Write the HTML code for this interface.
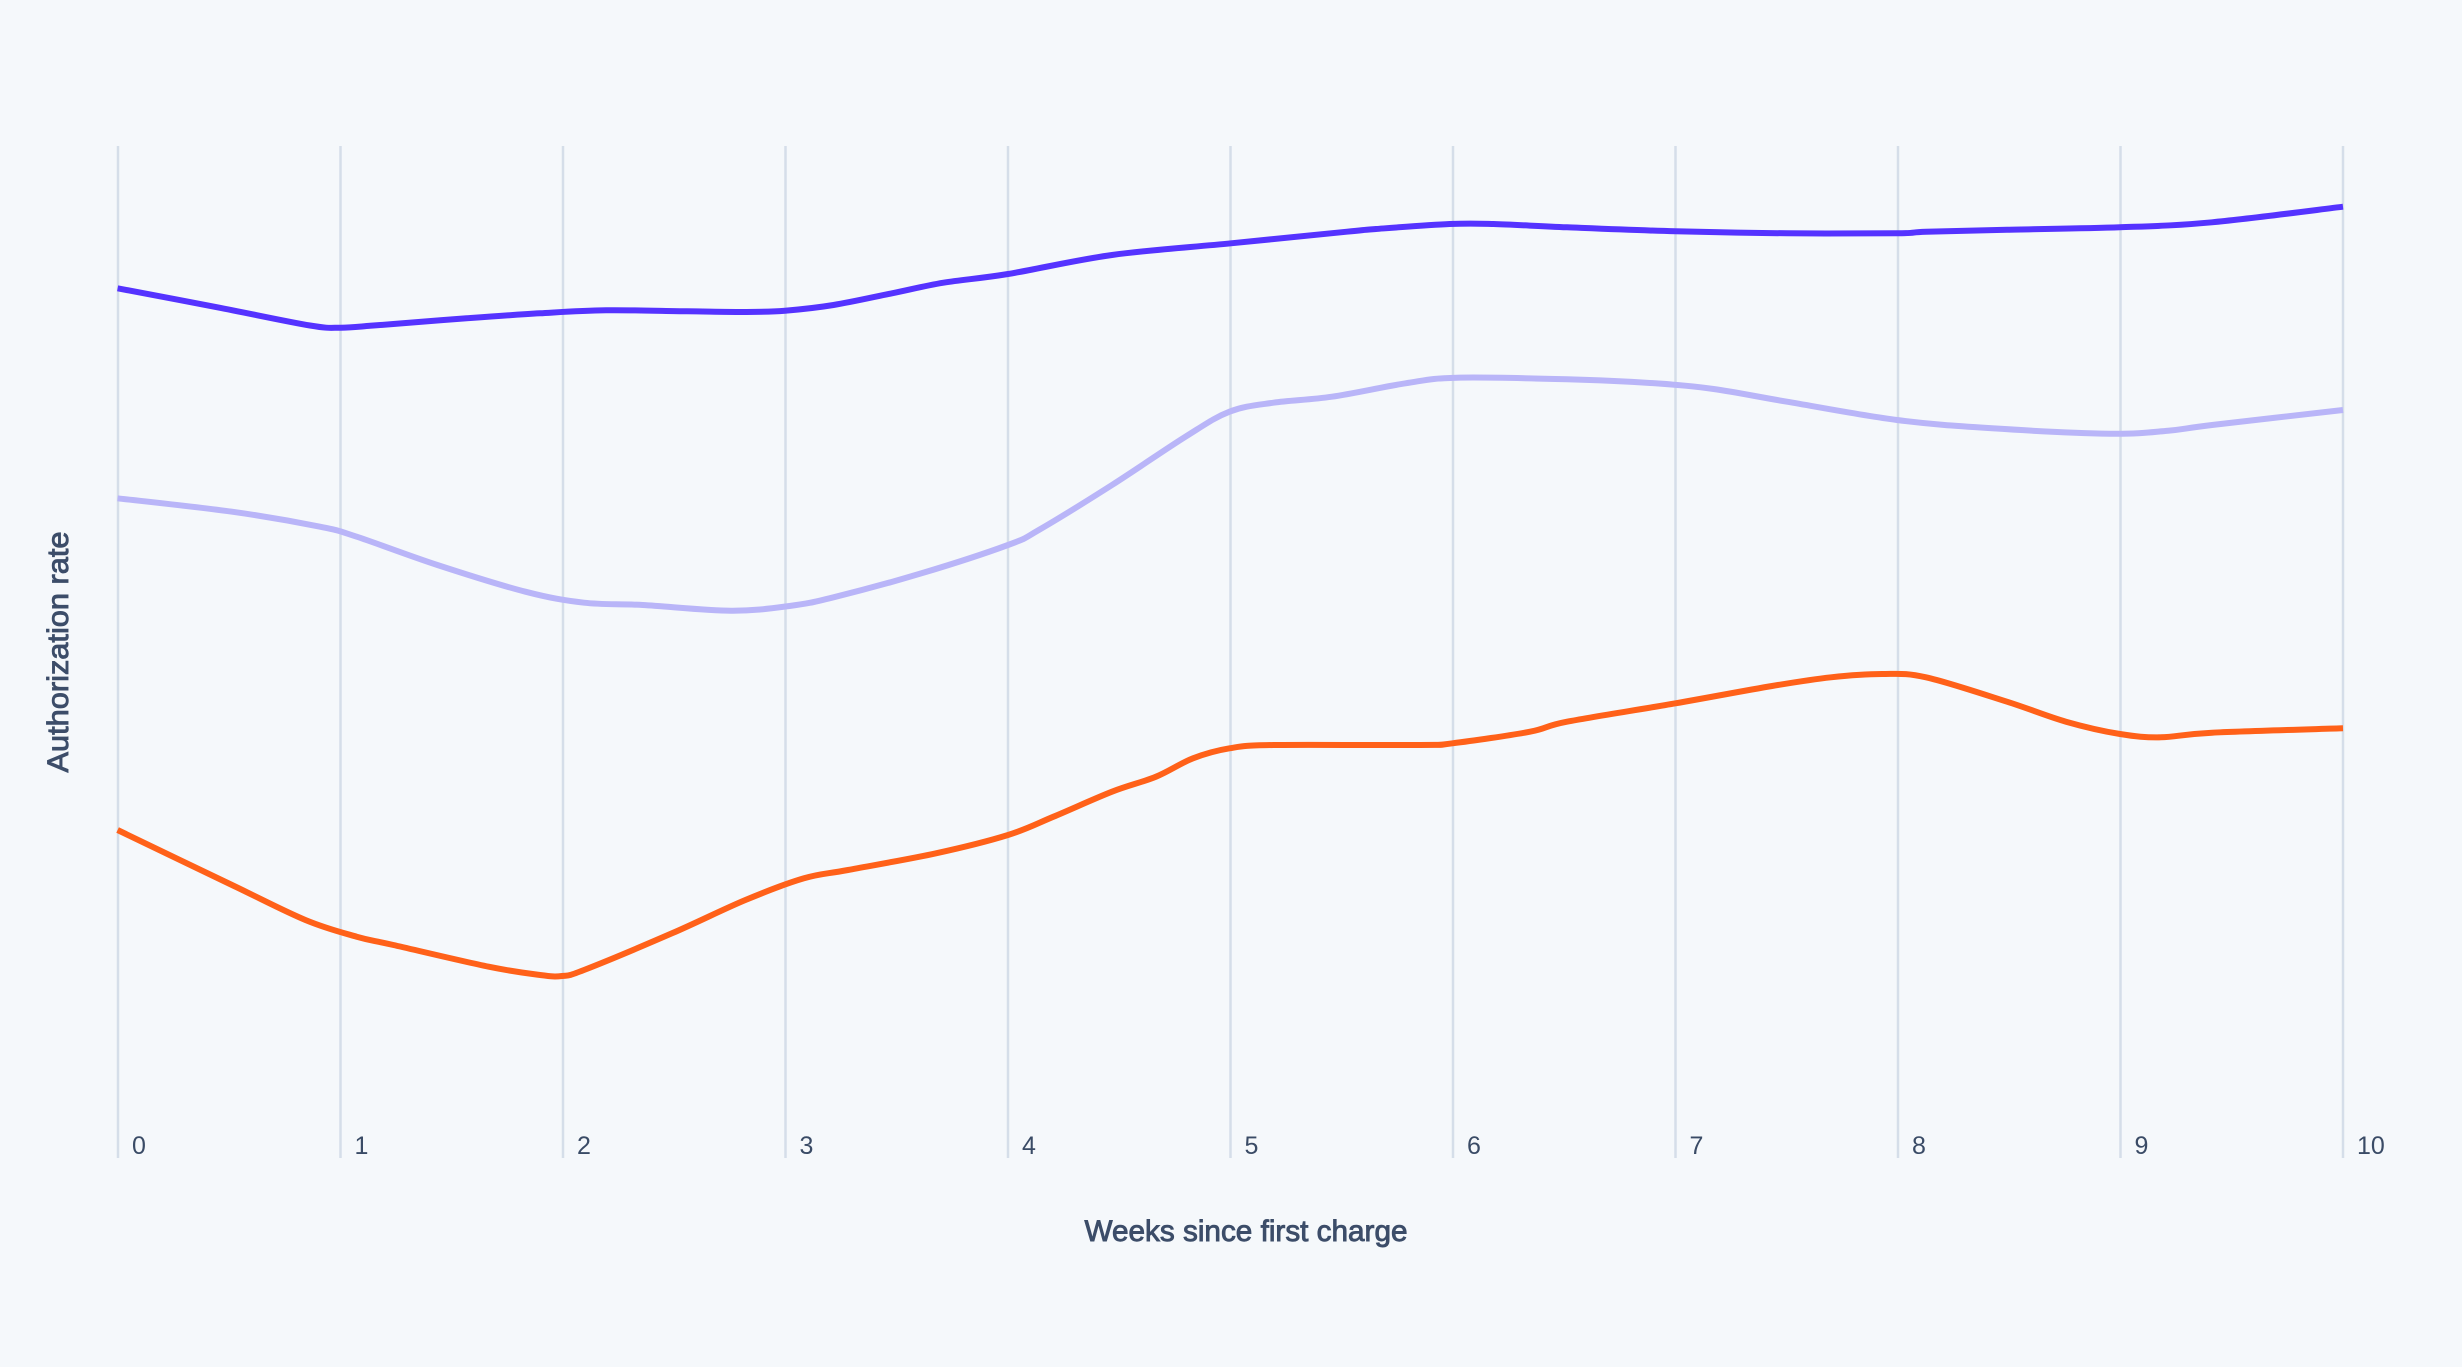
<!DOCTYPE html>
<html>
<head>
<meta charset="utf-8">
<style>
  html, body { margin: 0; padding: 0; background: #f5f8fb; }
  svg { display: block; }
  .tick { font-family: "Liberation Sans", sans-serif; font-size: 25px; fill: #3a4b66; }
  .title { font-family: "Liberation Sans", sans-serif; font-size: 30px; fill: #3c4d69; stroke: #3c4d69; stroke-width: 0.9px; }
</style>
</head>
<body>
<svg id="chart" width="2462" height="1367" viewBox="0 0 2462 1367" xmlns="http://www.w3.org/2000/svg">
  <rect x="0" y="0" width="2462" height="1367" fill="#f5f8fb"/>
  <g stroke="#d5dee9" stroke-width="2.5">
    <line x1="118" y1="146" x2="118" y2="1158"/>
    <line x1="340.5" y1="146" x2="340.5" y2="1158"/>
    <line x1="563" y1="146" x2="563" y2="1158"/>
    <line x1="785.5" y1="146" x2="785.5" y2="1158"/>
    <line x1="1008" y1="146" x2="1008" y2="1158"/>
    <line x1="1230.5" y1="146" x2="1230.5" y2="1158"/>
    <line x1="1453" y1="146" x2="1453" y2="1158"/>
    <line x1="1675.5" y1="146" x2="1675.5" y2="1158"/>
    <line x1="1898" y1="146" x2="1898" y2="1158"/>
    <line x1="2120.5" y1="146" x2="2120.5" y2="1158"/>
    <line x1="2343" y1="146" x2="2343" y2="1158"/>
  </g>
  <g class="tick">
    <text x="132" y="1154">0</text>
    <text x="354.5" y="1154">1</text>
    <text x="577" y="1154">2</text>
    <text x="799.5" y="1154">3</text>
    <text x="1022" y="1154">4</text>
    <text x="1244.5" y="1154">5</text>
    <text x="1467" y="1154">6</text>
    <text x="1689.5" y="1154">7</text>
    <text x="1912" y="1154">8</text>
    <text x="2134.5" y="1154">9</text>
    <text x="2357" y="1154">10</text>
  </g>
  <text class="title" x="1246" y="1241" text-anchor="middle" textLength="323" lengthAdjust="spacingAndGlyphs">Weeks since first charge</text>
  <text class="title" transform="translate(68,652) rotate(-90)" x="0" y="0" text-anchor="middle" textLength="241" lengthAdjust="spacingAndGlyphs">Authorization rate</text>

  <polyline id="s1" fill="none" stroke="#5533ff" stroke-width="6" stroke-linejoin="round" stroke-linecap="butt" points="117.6,288.3 217.4,307.3 310,325.5 340.6,327.7 370,325.8 393.4,324 466.7,318.3 540,313.3 606,310.3 686.8,311.3 745.4,312 785,310.7 833.5,305 892,293.3 943.5,282.7 1008,274 1112,255 1231,243.3 1347,231.7 1376,229 1449.6,224 1493.6,224 1567,227.3 1675.5,231.3 1787,233.3 1897,233.3 1926,231.7 2007,229.7 2120,227.3 2212,222.3 2343,206.7"/>
  <polyline id="s2" fill="none" stroke="#b9b5f8" stroke-width="6" stroke-linejoin="round" stroke-linecap="butt" points="117.6,498.3 232,511.7 320,526.7 356.7,536.7 437.4,565 525.4,591.7 584,602.7 642.8,605 730.8,610.7 789.5,606 833.5,597.3 921.5,573.3 1008,545 1038.8,530 1112,485 1185.5,436.7 1229.5,411.7 1273.5,402.7 1332,396.7 1405.6,383.3 1457,377.7 1567,379.3 1655,383.3 1713.6,389 1787,401.7 1897,420 1992,428.3 2109.7,433.7 2168,430.7 2212,425 2343,410"/>
  <polyline id="s3" fill="none" stroke="#ff6119" stroke-width="6" stroke-linejoin="round" stroke-linecap="butt" points="117.6,830 232,885 305.4,920 356.7,936.7 393.4,945 488.7,966.7 540,975 562,976 584,970 672,933.3 745.4,900 804,878.3 848,870 936,853.3 1008,835 1053.5,816.7 1112,791.7 1156,776.7 1193,758.3 1229.5,748.3 1273.5,745 1420,745 1452.5,743.3 1530,731.7 1567,721.7 1675.5,703.3 1772,686 1831,677.3 1882,674 1926,677.3 2007,701.7 2066,721.7 2120,734 2161,737.3 2212,732.7 2343,728.3"/>
</svg>
<script>
(function(){
  var ns = "http://www.w3.org/2000/svg";
  ["s1","s2","s3"].forEach(function(id){
    var pl = document.getElementById(id);
    if(!pl) return;
    var pts = pl.getAttribute("points").trim().split(/\s+/).map(function(p){var a=p.split(",");return [parseFloat(a[0]),parseFloat(a[1])];});
    var d = "M" + pts[0][0] + "," + pts[0][1];
    for (var i=0;i<pts.length-1;i++){
      var p0 = pts[i-1] || pts[i], p1 = pts[i], p2 = pts[i+1], p3 = pts[i+2] || pts[i+1];
      var t = 6;
      var c1x = p1[0] + (p2[0]-p0[0])/t, c1y = p1[1] + (p2[1]-p0[1])/t;
      var c2x = p2[0] - (p3[0]-p1[0])/t, c2y = p2[1] - (p3[1]-p1[1])/t;
      d += " C" + c1x.toFixed(2) + "," + c1y.toFixed(2) + " " + c2x.toFixed(2) + "," + c2y.toFixed(2) + " " + p2[0] + "," + p2[1];
    }
    var path = document.createElementNS(ns, "path");
    path.setAttribute("d", d);
    ["fill","stroke","stroke-width","stroke-linejoin","stroke-linecap"].forEach(function(a){ path.setAttribute(a, pl.getAttribute(a)); });
    pl.parentNode.replaceChild(path, pl);
  });
})();
</script>
</body>
</html>
